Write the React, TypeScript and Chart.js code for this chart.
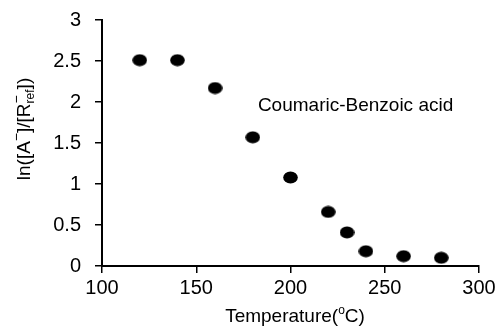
import React, { useEffect, useRef } from "react";
import { Chart, registerables } from "chart.js";

Chart.register(...registerables);

const temperature = [120, 140, 160, 180, 200, 220, 230, 240, 260, 280];
const lnRatio = [2.51, 2.51, 2.17, 1.57, 1.08, 0.66, 0.41, 0.18, 0.12, 0.1];
const xRange = [100, 300];
const yRange = [0, 3];
const annotationText = "Coumaric-Benzoic acid";
const annotationPos = [182.7, 1.96];

const FONT = "Liberation Sans";

function makeDot() {
  const c = document.createElement("canvas");
  c.width = 15;
  c.height = 13;
  const ctx = c.getContext("2d")!;
  ctx.fillStyle = "#000";
  ctx.beginPath();
  ctx.ellipse(7.5, 6.5, 7.3, 6.1, 0, 0, Math.PI * 2);
  ctx.fill();
  return c;
}

type Seg = { t: string; size: number; dy: number; stackPrev?: boolean };

function drawSegs(ctx: CanvasRenderingContext2D, segs: Seg[], font: string) {
  let total = 0;
  const widths: number[] = [];
  let lastW = 0;
  segs.forEach((s) => {
    ctx.font = `${s.size}px "${font}"`;
    const w = ctx.measureText(s.t).width;
    widths.push(w);
    if (s.stackPrev) {
      if (w > lastW) total += w - lastW;
    } else {
      total += w;
    }
    lastW = w;
  });
  let x = -total / 2;
  let prevStart = x;
  let prevW = 0;
  segs.forEach((s, i) => {
    ctx.font = `${s.size}px "${font}"`;
    if (s.stackPrev) {
      ctx.fillText(s.t, prevStart, s.dy);
      x = Math.max(prevStart + prevW, prevStart + widths[i]);
    } else {
      ctx.fillText(s.t, x, s.dy);
      prevStart = x;
      prevW = widths[i];
      x += widths[i];
    }
  });
}

const titlesPlugin = {
  id: "titles",
  afterDraw(chart: any) {
    const ctx = chart.ctx as CanvasRenderingContext2D;
    const xs = chart.scales.x;
    const ys = chart.scales.y;
    ctx.save();
    ctx.fillStyle = "#000";
    ctx.textBaseline = "middle";
    ctx.textAlign = "left";
    ctx.font = `19px "${FONT}"`;
    ctx.fillText(
      annotationText,
      xs.getPixelForValue(annotationPos[0]),
      ys.getPixelForValue(annotationPos[1])
    );
    ctx.save();
    ctx.translate(295, 317);
    drawSegs(
      ctx,
      [
        { t: "Temperature(", size: 19, dy: 0 },
        { t: "o", size: 12, dy: -6 },
        { t: "C)", size: 19, dy: 0 },
      ],
      FONT
    );
    ctx.restore();
    ctx.save();
    ctx.translate(25, 129);
    ctx.rotate(-Math.PI / 2);
    drawSegs(
      ctx,
      [
        { t: "ln([A", size: 19, dy: 0 },
        { t: "\u2212", size: 14, dy: -8 },
        { t: "]/[R", size: 19, dy: 0 },
        { t: "ref", size: 12, dy: 6 },
        { t: "\u2212", size: 14, dy: -8, stackPrev: true },
        { t: "])", size: 19, dy: 0 },
      ],
      FONT
    );
    ctx.restore();
    ctx.restore();
  },
};

export default function App() {
  const ref = useRef<HTMLCanvasElement>(null);
  useEffect(() => {
    document.body.style.margin = "0";
    const dot = makeDot();
    const chart = new Chart(ref.current!, {
      type: "scatter",
      data: {
        datasets: [
          {
            data: temperature.map((t, i) => ({ x: t, y: lnRatio[i] })),
            pointStyle: dot as any,
            backgroundColor: "#000",
            borderColor: "#000",
          },
        ],
      },
      options: {
        responsive: false,
        animation: false,
        devicePixelRatio: 1,
        layout: { padding: { left: 0, top: 20, right: 20, bottom: 0 } },
        plugins: { legend: { display: false }, tooltip: { enabled: false } },
        scales: {
          x: {
            type: "linear",
            min: xRange[0],
            max: xRange[1],
            ticks: {
              stepSize: 50,
              color: "#000",
              padding: 3,
              font: { family: FONT, size: 20 },
              maxRotation: 0,
              callback: (v: any) => `${v}`,
            },
            grid: {
              drawOnChartArea: false,
              drawTicks: true,
              tickLength: 7,
              color: "#000",
              lineWidth: 1.5,
            },
            border: { color: "#000", width: 2 },
            afterFit: (s: any) => {
              s.height = 60;
              s.paddingLeft = 0;
              s.paddingRight = 0;
            },
          },
          y: {
            type: "linear",
            min: yRange[0],
            max: yRange[1],
            ticks: {
              stepSize: 0.5,
              color: "#000",
              padding: 14,
              font: { family: FONT, size: 20 },
              callback: (v: any) => `${v}`,
            },
            grid: {
              drawOnChartArea: false,
              drawTicks: true,
              tickLength: 7,
              color: "#000",
              lineWidth: 1.5,
            },
            border: { color: "#000", width: 2 },
            afterFit: (s: any) => {
              s.width = 102;
              s.paddingTop = 0;
              s.paddingBottom = 0;
            },
          },
        },
      },
      plugins: [titlesPlugin],
    });
    return () => chart.destroy();
  }, []);
  return (
    <div style={{ width: 499, height: 326 }}>
      <canvas ref={ref} width={499} height={326} />
    </div>
  );
}
